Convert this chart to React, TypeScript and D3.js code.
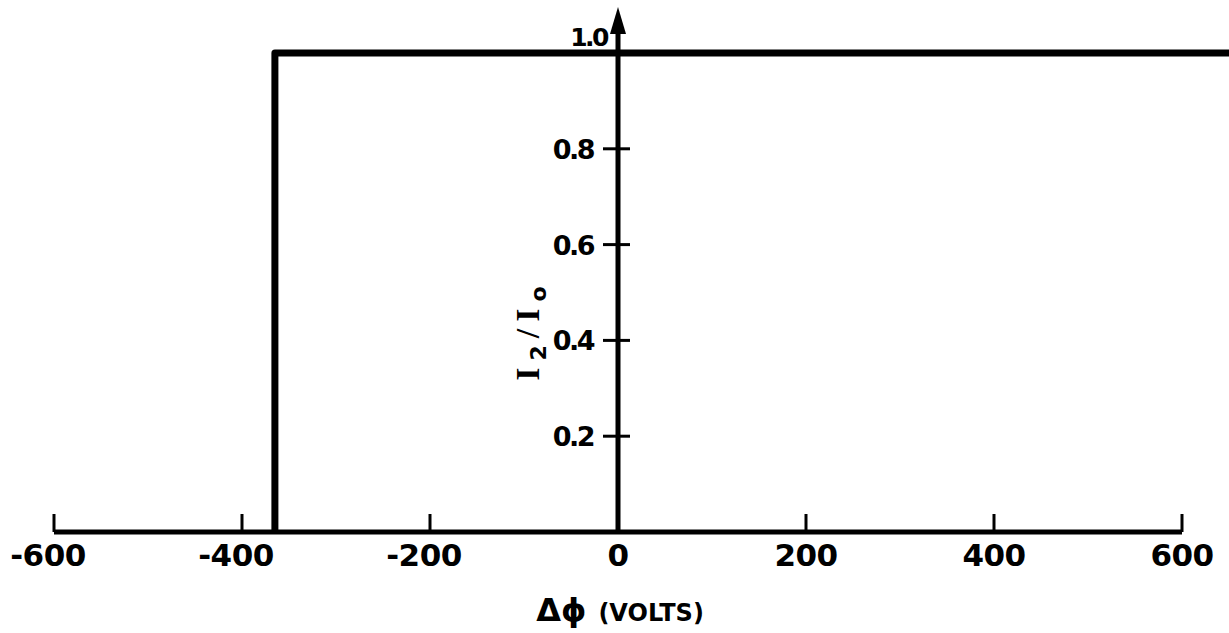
import { useEffect, useRef } from "react";
import * as d3 from "d3";

// data
const xTicks = [-600, -400, -200, 0, 200, 400, 600];
const yTicks = [0.2, 0.4, 0.6, 0.8];
const yTopLabel = "1.0";
const curveX = [-365, -365, 650];
const curveY = [0, 1, 1];

const W = 1229;
const H = 633;

const App = () => {
  const ref = useRef<SVGSVGElement>(null);

  useEffect(() => {
    const svg = d3.select(ref.current);
    svg.selectAll("*").remove();

    const x = d3.scaleLinear().domain([-600, 600]).range([54, 1182]);
    const y = d3.scaleLinear().domain([0, 1]).range([532, 53]);
    const font = "'DejaVu Sans', sans-serif";

    // x axis baseline + upward ticks
    svg
      .append("line")
      .attr("x1", x(-600))
      .attr("x2", x(600))
      .attr("y1", y(0))
      .attr("y2", y(0))
      .attr("stroke", "#000")
      .attr("stroke-width", 5);

    svg
      .selectAll("line.xtick")
      .data(xTicks)
      .enter()
      .append("line")
      .attr("class", "xtick")
      .attr("x1", (d) => x(d))
      .attr("x2", (d) => x(d))
      .attr("y1", y(0))
      .attr("y2", y(0) - 18)
      .attr("stroke", "#000")
      .attr("stroke-width", 3);

    svg
      .selectAll("text.xlab")
      .data(xTicks)
      .enter()
      .append("text")
      .attr("class", "xlab")
      .attr("x", (d) => x(d) - (d < 0 ? 6 : 0))
      .attr("y", 566)
      .attr("text-anchor", "middle")
      .attr("font-family", font)
      .attr("font-weight", "bold")
      .attr("font-size", 31)
      .attr("letter-spacing", -0.5)
      .text((d) => (d < 0 ? "-" + Math.abs(d) : String(d)));

    // y axis with arrow
    svg
      .append("line")
      .attr("x1", x(0))
      .attr("x2", x(0))
      .attr("y1", y(0) + 2)
      .attr("y2", 20)
      .attr("stroke", "#000")
      .attr("stroke-width", 5);

    svg
      .append("path")
      .attr("d", `M${x(0)},7 L${x(0) - 8},34 L${x(0) + 8},34 Z`)
      .attr("fill", "#000");

    svg
      .selectAll("line.ytick")
      .data(yTicks)
      .enter()
      .append("line")
      .attr("class", "ytick")
      .attr("x1", x(0) - 15)
      .attr("x2", x(0) + 12)
      .attr("y1", (d) => y(d))
      .attr("y2", (d) => y(d))
      .attr("stroke", "#000")
      .attr("stroke-width", 3);

    svg
      .selectAll("text.ylab")
      .data(yTicks)
      .enter()
      .append("text")
      .attr("class", "ylab")
      .attr("x", 593)
      .attr("y", (d) => y(d) + 10)
      .attr("text-anchor", "end")
      .attr("font-family", font)
      .attr("font-weight", "bold")
      .attr("font-size", 27)
      .attr("letter-spacing", -2.5)
      .text((d) => d.toFixed(1));

    svg
      .append("text")
      .attr("x", 607)
      .attr("y", 46)
      .attr("text-anchor", "end")
      .attr("font-family", font)
      .attr("font-weight", "bold")
      .attr("font-size", 25)
      .attr("letter-spacing", -2.5)
      .text(yTopLabel);

    // step curve
    const pts = curveX.map((v, i) => ({ x: v, y: curveY[i] }));
    const line = d3
      .line<{ x: number; y: number }>()
      .x((d) => x(d.x))
      .y((d) => y(d.y))
      .curve(d3.curveLinear);

    svg
      .append("path")
      .datum(pts)
      .attr("fill", "none")
      .attr("stroke", "#000")
      .attr("stroke-width", 7)
      .attr("stroke-linejoin", "round")
      .attr("d", line);

    // axis titles
    const xt = svg
      .append("text")
      .attr("x", x(0) + 2)
      .attr("y", 621)
      .attr("text-anchor", "middle")
      .attr("font-family", font)
      .attr("font-weight", "bold");
    xt.append("tspan").attr("font-size", 32).text("Δϕ");
    xt.append("tspan").attr("font-size", 24).attr("dx", 12).text("(VOLTS)");

    const yt = svg
      .append("text")
      .attr("transform", `translate(539,330) rotate(-90)`)
      .attr("text-anchor", "middle")
      .attr("font-family", "'Liberation Serif', serif")
      .attr("font-weight", "bold")
      .attr("font-size", 34)
      .attr("letter-spacing", 7);
    yt.append("tspan").text("I");
    yt.append("tspan").attr("font-size", 22).attr("dy", 7).attr("font-family", font).text("2");
    yt.append("tspan").attr("dy", -7).text("/I");
    yt.append("tspan").attr("font-size", 22).attr("dy", 7).attr("font-family", font).text("o");
  }, []);

  return (
    <svg
      ref={ref}
      width={W}
      height={H}
      style={{ position: "absolute", left: 0, top: 0, background: "#fff" }}
    />
  );
};

export default App;
